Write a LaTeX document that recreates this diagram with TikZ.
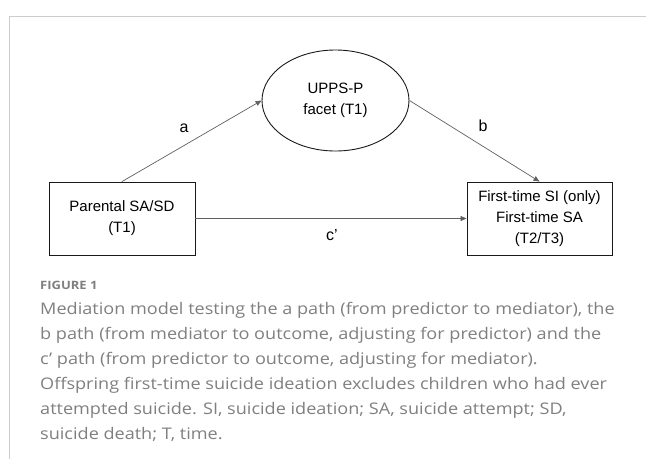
\documentclass[tikz,border=0pt]{standalone}
\usepackage{fontspec}
\setmainfont{Liberation Sans}
\newfontfamily\capfont[FakeStretch=1.13]{Open Sans}
\usetikzlibrary{arrows.meta,shapes.geometric}
\definecolor{framegray}{HTML}{CCCCCC}
\definecolor{capgray}{HTML}{7F7F7F}
\definecolor{linegray}{HTML}{606060}
\begin{document}
\begin{tikzpicture}[x=1pt,y=-1pt,
  diagtext/.style={font=\fontsize{15}{21}\selectfont},
  box/.style={diagtext, draw=black!90, line width=0.9pt, minimum width=146pt, minimum height=73pt, align=center, inner sep=0pt},
  oval/.style={diagtext, ellipse, draw=black!90, line width=0.9pt, minimum width=147pt, minimum height=101pt, align=center, inner sep=0pt},
  link/.style={draw=linegray, line width=0.7pt, -{Triangle[length=6pt,width=5pt]}},
  lbl/.style={font=\fontsize{16}{16}\selectfont, inner sep=0pt},
  caphead/.style={font=\capfont\bfseries\fontsize{11.5}{12}\selectfont, text=capgray, inner sep=0pt, anchor=base west},
  capbody/.style={font=\capfont\fontsize{16}{25}\selectfont, text=capgray, inner sep=0pt, anchor=north west, align=left}
]
\useasboundingbox (0,0) rectangle (646,459);
\draw[framegray, line width=1pt] (9,459) -- (9,16) -- (646,16);

\node[oval] (med) at (335.5,100.5) {UPPS-P\\facet (T1)};
\node[box] (src) at (122,218.5) {Parental SA/SD\\(T1)};
\node[box, minimum width=145pt] (out) at (539.5,218.5) {First-time SI (only)\\First-time SA\\(T2/T3)};

\draw[link] (src.north) -- (med.west);
\draw[link] (med.east) -- (out.north);
\draw[link] (src.east) -- (out.west);

\node[lbl] (la) at (184,128) {a};
\node[lbl] (lb) at (483,126) {b};
\node[lbl] (lc) at (332,235) {c’};

\node[caphead] (fig) at (40,289) {FIGURE 1};
\node[capbody] (cap) at (40,302) {Mediation model testing the a path (from predictor to mediator), the\\
b path (from mediator to outcome, adjusting for predictor) and the\\
c’ path (from predictor to outcome, adjusting for mediator).\\
Offspring first-time suicide ideation excludes children who had ever\\
attempted suicide. SI, suicide ideation; SA, suicide attempt; SD,\\
suicide death; T, time.};
\end{tikzpicture}
\end{document}
